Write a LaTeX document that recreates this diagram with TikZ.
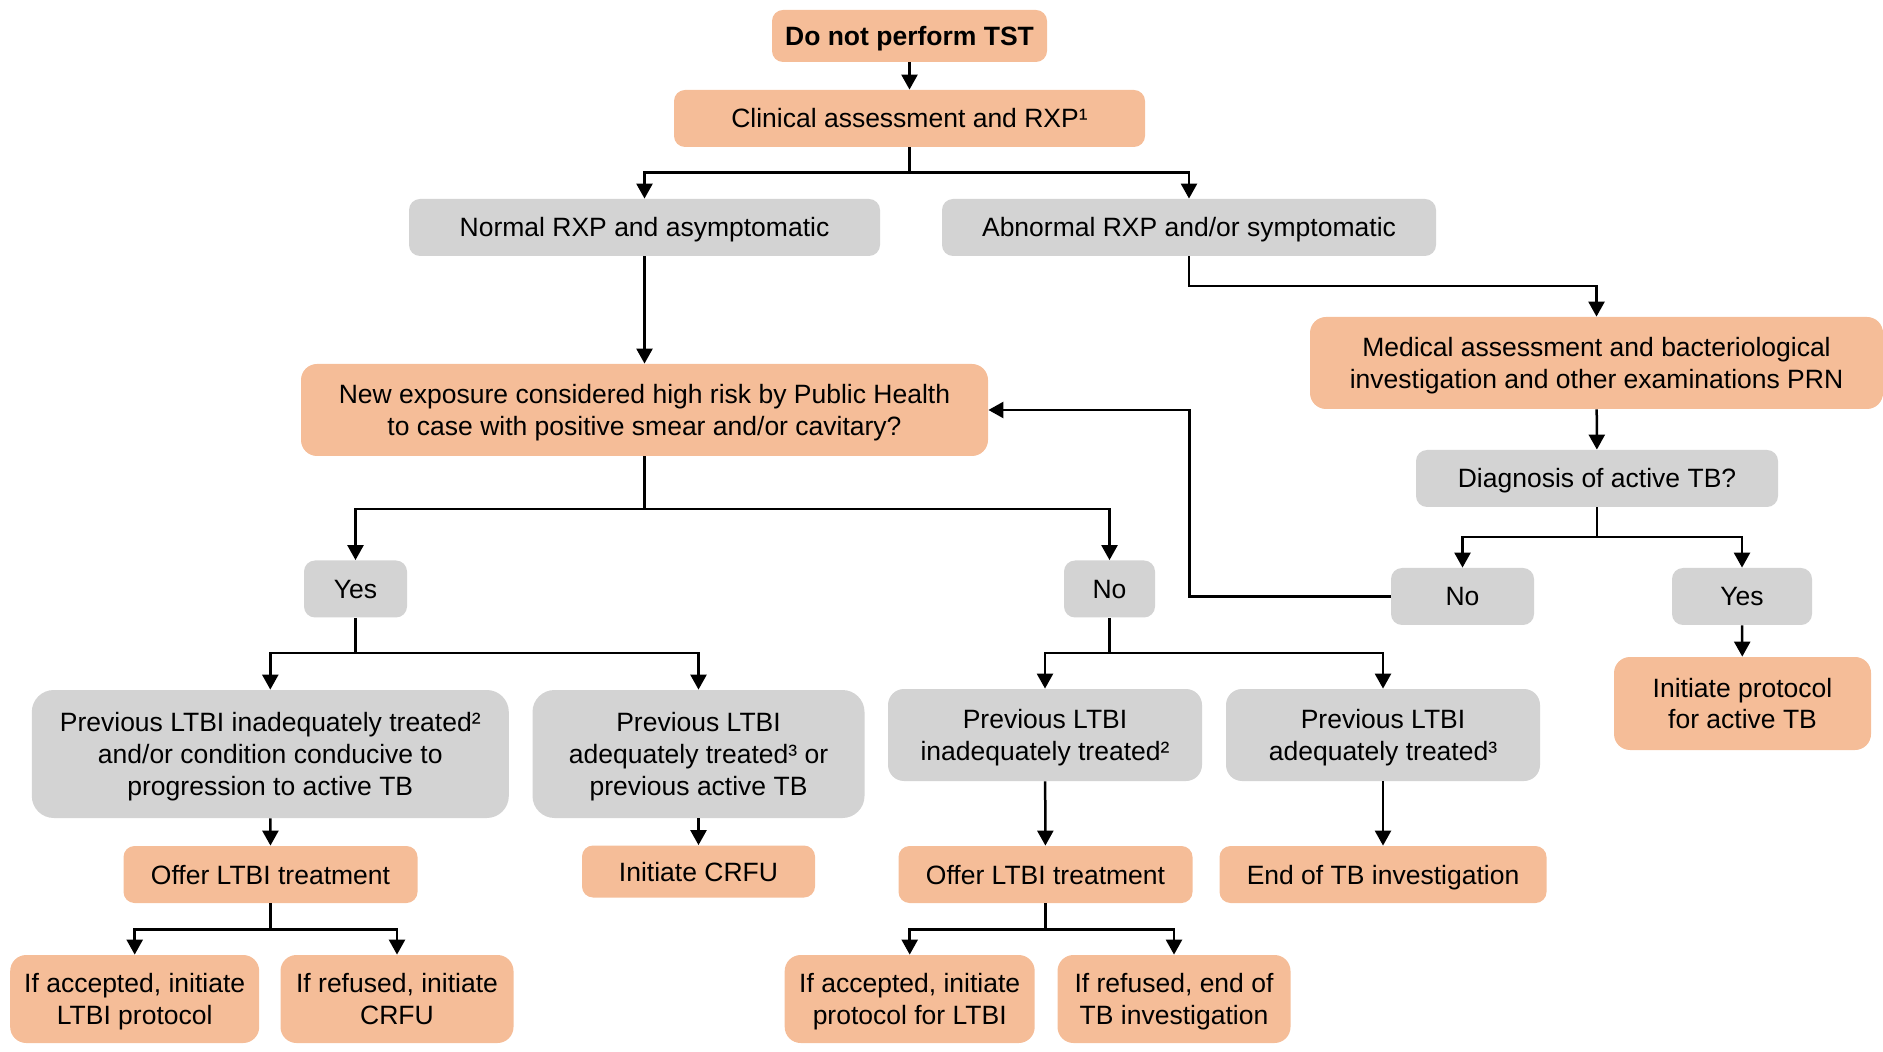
\documentclass[tikz,border=0pt]{standalone}
\usepackage{fontspec}
\setmainfont{Liberation Sans}
\usetikzlibrary{arrows.meta}
\definecolor{peach}{RGB}{245,189,152}
\definecolor{boxgray}{RGB}{211,211,211}
\newdimen\pxu
\pxu=0.5pt
\tikzset{
  base/.style={inner sep=0pt, align=center, text height=9.5pt, text depth=0pt,
    rounded corners=5.5pt, font=\fontsize{13.25pt}{15.9pt}\selectfont},
  pch/.style={base, fill=peach},
  gry/.style={base, fill=boxgray},
  two/.style={text height=25.4pt},
  three/.style={text height=41.3pt},
  sz/.style 2 args={minimum width={#1*\pxu}, minimum height={#2*\pxu}},
  arr/.style={line width=1.25pt, -{Triangle[width=8pt,length=7.5pt]}},
  ln/.style={line width=1.25pt}
}
\begin{document}
\begin{tikzpicture}[x=0.5pt,y=-0.5pt]
\useasboundingbox (0,0) rectangle (1883,1052);
% nodes
\node[pch, sz={275}{52}, font=\fontsize{13.25pt}{15.9pt}\selectfont\bfseries] (tst) at (909.5,36) {Do not perform TST};
\node[pch, sz={471}{57}] (clin) at (909.5,118.5) {Clinical assessment and RXP¹};
\node[gry, sz={471}{57}] (normal) at (644.5,227.5) {Normal RXP and asymptomatic};
\node[gry, sz={494}{57}] (abn) at (1189,227.5) {Abnormal RXP and/or symptomatic};
\node[pch, two, sz={687}{92}, rounded corners=8pt] (new) at (644.5,410) {New exposure considered high risk by Public Health\\to case with positive smear and/or cavitary?};
\node[pch, two, sz={573}{92}, rounded corners=8pt] (med) at (1596.5,363) {Medical assessment and bacteriological\\investigation and other examinations PRN};
\node[gry, sz={362}{57}] (diag) at (1597,478.5) {Diagnosis of active TB?};
\node[gry, sz={143}{57}] (noR) at (1462.5,596.5) {No};
\node[gry, sz={140}{57}] (yesR) at (1742,596.5) {Yes};
\node[pch, two, sz={257}{93}, rounded corners=8pt] (initTB) at (1742.5,703.5) {Initiate protocol\\for active TB};
\node[gry, sz={103}{57}] (yesL) at (355.5,589) {Yes};
\node[gry, sz={91}{57}] (noM) at (1109.5,589) {No};
\node[gry, three, sz={477}{128}, rounded corners=11pt] (A) at (270.3,754) {Previous LTBI inadequately treated²\\and/or condition conducive to\\progression to active TB};
\node[gry, three, sz={332}{128}, rounded corners=11pt] (B) at (698.5,754) {Previous LTBI\\adequately treated³ or\\previous active TB};
\node[gry, two, sz={314}{92}, rounded corners=8pt] (C) at (1045,735) {Previous LTBI\\inadequately treated²};
\node[gry, two, sz={314}{92}, rounded corners=8pt] (D) at (1383,735) {Previous LTBI\\adequately treated³};
\node[pch, sz={294}{57}] (offerL) at (270.5,874.5) {Offer LTBI treatment};
\node[pch, sz={233}{52}] (crfu) at (698.5,871.5) {Initiate CRFU};
\node[pch, sz={294}{57}] (offerM) at (1045.5,874.5) {Offer LTBI treatment};
\node[pch, sz={327}{57}] (endTB) at (1383,874.5) {End of TB investigation};
\node[pch, two, sz={249}{88}, rounded corners=8pt] (accL) at (134.7,999) {If accepted, initiate\\LTBI protocol};
\node[pch, two, sz={233}{88}, rounded corners=8pt] (refL) at (397,999) {If refused, initiate\\CRFU};
\node[pch, two, sz={250}{88}, rounded corners=8pt] (accM) at (909.7,999) {If accepted, initiate\\protocol for LTBI};
\node[pch, two, sz={233}{88}, rounded corners=8pt] (refM) at (1174,999) {If refused, end of\\TB investigation};
% junction coordinates
\coordinate (j1) at (909.5,172.7);
\coordinate (j2) at (1189,286);
\coordinate (j3) at (1597,537);
\coordinate (j4) at (644.5,509);
\coordinate (j5) at (355.5,653);
\coordinate (j6) at (270.5,929.3);
\coordinate (j7) at (1109.5,653);
\coordinate (j8) at (1045.5,929.3);
\coordinate (fb) at (1189.3,596.5);
% connectors
\draw[arr] (tst) -- (clin);
\draw[ln] (clin.south) -- (j1);
\draw[arr] (j1) -| (normal.north);
\draw[arr] (j1) -| (abn.north);
\draw[arr] (normal) -- (new);
\draw[arr] (abn.south) -- (j2) -| (med.north);
\draw[arr] (med) -- (diag);
\draw[ln] (diag.south) -- (j3);
\draw[arr] (j3) -| (noR.north);
\draw[arr] (j3) -| (yesR.north);
\draw[arr] (yesR) -- (initTB);
\draw[arr] (noR.west) -- (fb) |- (new.east);
\draw[ln] (new.south) -- (j4);
\draw[arr] (j4) -| (yesL.north);
\draw[arr] (j4) -| (noM.north);
\draw[ln] (yesL.south) -- (j5);
\draw[arr] (j5) -| (A.north);
\draw[arr] (j5) -| (B.north);
\draw[arr] (A) -- (offerL);
\draw[arr] (B) -- (crfu);
\draw[ln] (offerL.south) -- (j6);
\draw[arr] (j6) -| (accL.north);
\draw[arr] (j6) -| (refL.north);
\draw[ln] (noM.south) -- (j7);
\draw[arr] (j7) -| (C.north);
\draw[arr] (j7) -| (D.north);
\draw[arr] (C) -- (offerM);
\draw[arr] (D) -- (endTB);
\draw[ln] (offerM.south) -- (j8);
\draw[arr] (j8) -| (accM.north);
\draw[arr] (j8) -| (refM.north);
\end{tikzpicture}
\end{document}
